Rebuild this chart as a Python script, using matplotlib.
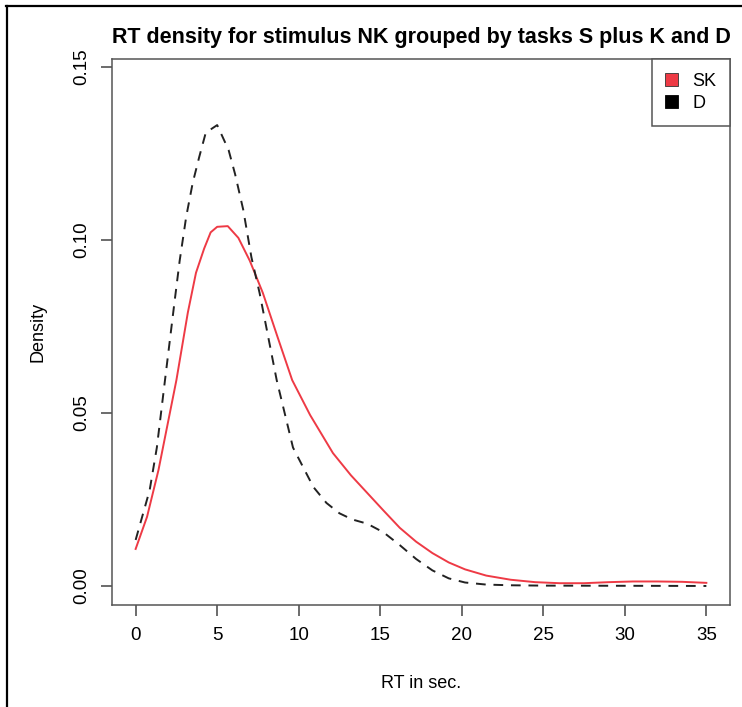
import matplotlib
matplotlib.use('Agg')
import matplotlib.pyplot as plt
from matplotlib.patches import Patch
from matplotlib.lines import Line2D

plt.rcParams['font.family'] = ['Liberation Sans', 'DejaVu Sans']

# RT density, task group S plus K
sk_x = [0, 0.7, 1.4, 2.5, 3.2, 3.7, 4.2, 4.6, 5.0, 5.65, 6.3, 7.0, 7.8, 8.7, 9.6,
        10.7, 12.1, 13.2, 14.2, 15.2, 16.2, 17.2, 18.2, 19.2, 20.2, 21.5, 23,
        24.5, 26, 27.5, 29, 30.5, 32, 33.5, 35]
sk_d = [0.0107, 0.020, 0.0335, 0.0595, 0.079, 0.0905, 0.0975, 0.1022, 0.1038, 0.104,
        0.1006, 0.094, 0.0847, 0.072, 0.0595, 0.0494, 0.0384, 0.032, 0.0269,
        0.0218, 0.0168, 0.0128, 0.0095, 0.0068, 0.0048, 0.003, 0.0018, 0.0011,
        0.0008, 0.0008, 0.0011, 0.0013, 0.0013, 0.0012, 0.0009]

# RT density, task D
d_x = [0, 0.86, 1.3, 1.8, 2.4, 2.7, 3.1, 3.5, 3.9, 4.3, 5.0, 5.7, 6.1, 6.6, 7.1,
       7.6, 8.65, 9.65, 10.9, 11.7, 12.5, 13.3, 14.2, 15.2, 16.2, 17.2, 18.2,
       19.2, 20.2, 21.5, 23, 25, 35]
d_d = [0.0133, 0.0277, 0.040, 0.0595, 0.0827, 0.094, 0.1067, 0.1165, 0.124, 0.131,
       0.1332, 0.126, 0.119, 0.1087, 0.095, 0.0847, 0.0595, 0.040, 0.0286, 0.0240,
       0.021, 0.0192, 0.018, 0.0155, 0.0118, 0.0078, 0.0045, 0.0022, 0.001,
       0.0004, 0.0002, 0.0001, 0.0]

x_ticks = [0, 5, 10, 15, 20, 25, 30, 35]
y_ticks = [0.00, 0.05, 0.10, 0.15]
y_tick_labels = ['0.00', '0.05', '0.10', '0.15']

W, H = 742, 707
fig = plt.figure(figsize=(W / 100, H / 100), dpi=100)
ax = fig.add_axes([112 / W, 1 - 605 / H, (730 - 112) / W, (605 - 59) / H])

red = '#ee3a45'
ax.plot(sk_x, sk_d, color=red, lw=1.4)
ax.plot(d_x, d_d, color='#222222', lw=1.4, ls=(0, (5, 4)))

ax.set_xlim(-1.45, 36.45)
ax.set_ylim(-0.0055, 0.1523)
ax.set_xticks(x_ticks)
ax.set_yticks(y_ticks)
ax.set_yticklabels(y_tick_labels, rotation=90, va='center')
ax.tick_params(direction='out', length=8, width=1.1, color='#444444',
               labelsize=13.5, pad=8)
for s in ax.spines.values():
    s.set_color('#555555')
    s.set_linewidth(1.1)

fig.text(421 / W, 1 - 38 / H, 'RT density for stimulus NK grouped by tasks S plus K and D',
         ha='center', va='center', fontsize=15.5, fontweight='bold')
fig.text(421 / W, 1 - 683 / H, 'RT in sec.', ha='center', va='center', fontsize=13)
fig.text(38 / W, 1 - 332 / H, 'Density', ha='center', va='center', rotation=90,
         fontsize=13)

handles = [Patch(facecolor=red, edgecolor='#333333', lw=0.6),
           Patch(facecolor='black', edgecolor='black', lw=0.6)]
leg = ax.legend(handles, ['SK', 'D'], loc='upper right', borderaxespad=0,
                fancybox=False, fontsize=13, handlelength=0.7, handleheight=0.7,
                handletextpad=0.8, borderpad=0.75, labelspacing=0.3,
                framealpha=1)
leg.get_frame().set_edgecolor('#555555')
leg.get_frame().set_linewidth(1.1)

# outer frame
fig.add_artist(Line2D([6 / W, 1], [1 - 5.5 / H, 1 - 5.5 / H], color='black', lw=1.6,
                      transform=fig.transFigure))
fig.add_artist(Line2D([6.5 / W, 6.5 / W], [0, 1 - 5.5 / H], color='black', lw=1.6,
                      transform=fig.transFigure))

fig.savefig('out.png', dpi=100)
